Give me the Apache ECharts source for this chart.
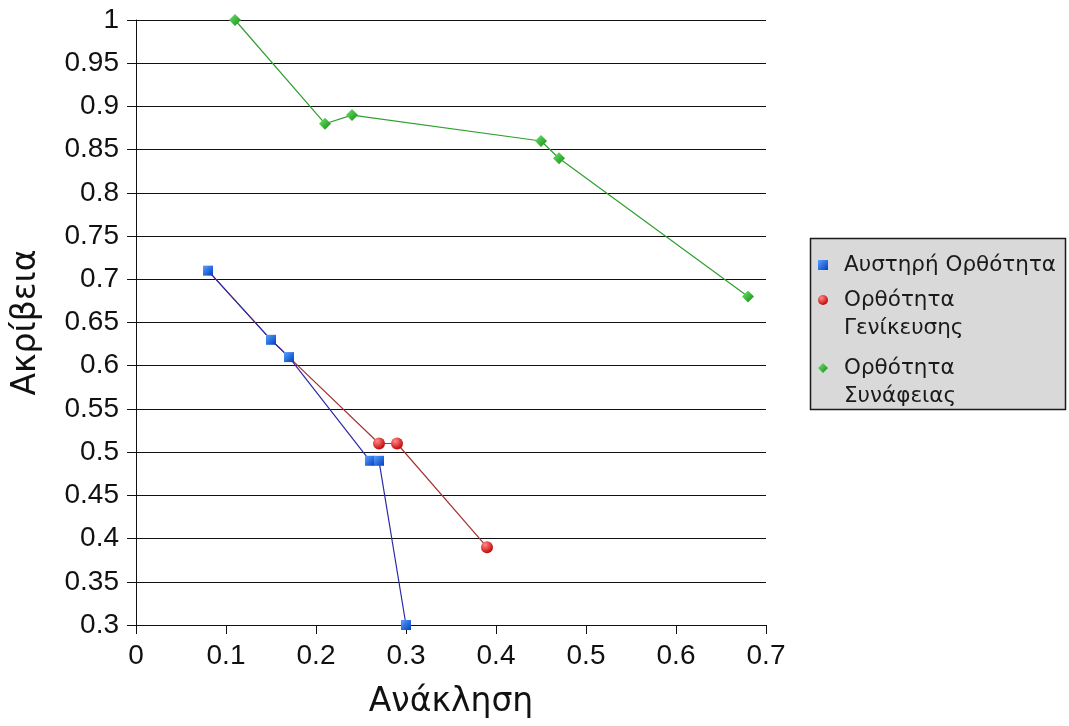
<!DOCTYPE html>
<html>
<head>
<meta charset="utf-8">
<script src="https://cdn.jsdelivr.net/npm/echarts@6/dist/echarts.min.js"></script>
<style>
  html, body { margin: 0; padding: 0; background: #ffffff; }
  #chart { width: 1069px; height: 726px; }
</style>
</head>
<body>
<div id="chart"></div>
<script>
// Precision (Ακρίβεια) against recall (Ανάκληση) for three correctness measures
const seriesNames = ['Αυστηρή Ορθότητα', 'Ορθότητα\nΓενίκευσης', 'Ορθότητα\nΣυνάφειας'];

const strictRecall    = [0.08, 0.15, 0.17, 0.26, 0.27, 0.30];
const strictPrecision = [0.71, 0.63, 0.61, 0.49, 0.49, 0.30];

const generalRecall    = [0.08, 0.15, 0.17, 0.27, 0.29, 0.39];
const generalPrecision = [0.71, 0.63, 0.61, 0.51, 0.51, 0.39];

const relevRecall    = [0.11, 0.21, 0.24, 0.45, 0.47, 0.68];
const relevPrecision = [1.00, 0.88, 0.89, 0.86, 0.84, 0.68];

const xTicks = [0, 0.1, 0.2, 0.3, 0.4, 0.5, 0.6, 0.7];
const yTicks = [0.3, 0.35, 0.4, 0.45, 0.5, 0.55, 0.6, 0.65, 0.7, 0.75, 0.8, 0.85, 0.9, 0.95, 1];

function pairs(xs, ys) { return xs.map((x, i) => [x, ys[i]]); }

// points already marked by the strict series keep only that series' marker
const strictPts = pairs(strictRecall, strictPrecision);
function hideShared(pts) {
  return pts.map(p => strictPts.some(q => q[0] === p[0] && q[1] === p[1])
    ? { value: p, symbol: 'none' } : p);
}

function linear(c1, c2) {
  return new echarts.graphic.LinearGradient(0, 0, 1, 1, [
    { offset: 0, color: c1 }, { offset: 1, color: c2 }
  ]);
}
function radial(c1, c2) {
  return new echarts.graphic.RadialGradient(0.35, 0.3, 0.75, [
    { offset: 0, color: c1 }, { offset: 1, color: c2 }
  ]);
}

const blueFill  = linear('#5aa0ff', '#0040c0');
const redFill   = radial('#ff8a8a', '#c00000');
const greenFill = linear('#6ee86e', '#138a13');

const tickFont = 'Liberation Sans, Arial, sans-serif';
const titleFont = 'DejaVu Sans, sans-serif';
const LH = 28;

function legendBox(name, icon, top) {
  return {
    orient: 'vertical',
    left: 818, top: top,
    padding: 0,
    itemWidth: 10, itemHeight: 10,
    formatter: n => (n.indexOf('\n') >= 0 ? '\n' + n : n),
    textStyle: { fontFamily: titleFont, fontSize: 21.5, color: '#1a1a1a',
      lineHeight: LH, padding: [0, 0, 0, 11] },
    data: [{ name: name, icon: icon }]
  };
}

const chart = echarts.init(document.getElementById('chart'), null, { renderer: 'canvas' });

chart.setOption({
  animation: false,
  backgroundColor: '#ffffff',
  grid: { left: 136, right: 303, top: 20, bottom: 101, containLabel: false, outerBoundsMode: 'none' },
  graphic: [{
    type: 'rect', z: 0,
    shape: { x: 810.5, y: 238.5, width: 255, height: 171 },
    style: { fill: '#d9d9d9', stroke: '#1a1a1a', lineWidth: 1.5 }
  }],
  legend: [
    legendBox(seriesNames[0], 'rect', 251),
    legendBox(seriesNames[1], 'circle', 258),
    legendBox(seriesNames[2], 'diamond', 326)
  ],
  xAxis: {
    type: 'value',
    min: 0, max: 0.7, interval: 0.1,
    name: 'Ανάκληση',
    nameLocation: 'middle',
    nameGap: 61,
    nameTextStyle: { fontFamily: titleFont, fontSize: 33, color: '#111' },
    axisLine: { show: true, onZero: false, lineStyle: { color: '#111', width: 1 } },
    axisTick: { show: true, inside: false, length: 9, lineStyle: { color: '#111' } },
    axisLabel: { margin: 17, fontFamily: tickFont, fontSize: 28, color: '#111',
      formatter: v => String(+v.toFixed(2)) },
    splitLine: { show: false }
  },
  yAxis: {
    type: 'value',
    min: 0.3, max: 1, interval: 0.05,
    name: 'Ακρίβεια',
    nameLocation: 'middle',
    nameGap: 93,
    nameTextStyle: { fontFamily: titleFont, fontSize: 33, color: '#111' },
    axisLine: { show: true, lineStyle: { color: '#111', width: 1 } },
    axisTick: { show: true, inside: false, length: 9, lineStyle: { color: '#111' } },
    axisLabel: { margin: 17, fontFamily: tickFont, fontSize: 28, color: '#111',
      formatter: v => String(+v.toFixed(2)) },
    splitLine: { show: true, lineStyle: { color: '#111', width: 1 } }
  },
  series: [
    {
      name: seriesNames[0], type: 'line', z: 4,
      data: strictPts,
      symbol: 'rect', symbolSize: 10,
      itemStyle: { color: blueFill, borderWidth: 0 },
      lineStyle: { color: '#2b2ba8', width: 1.2 }
    },
    {
      name: seriesNames[1], type: 'line', z: 3,
      data: hideShared(pairs(generalRecall, generalPrecision)),
      symbol: 'circle', symbolSize: 12,
      itemStyle: { color: redFill, borderWidth: 0 },
      lineStyle: { color: '#a83232', width: 1.2 }
    },
    {
      name: seriesNames[2], type: 'line', z: 3,
      data: pairs(relevRecall, relevPrecision),
      symbol: 'diamond', symbolSize: 12,
      itemStyle: { color: greenFill, borderWidth: 0 },
      lineStyle: { color: '#2fa02f', width: 1.2 }
    }
  ]
});
</script>
</body>
</html>
